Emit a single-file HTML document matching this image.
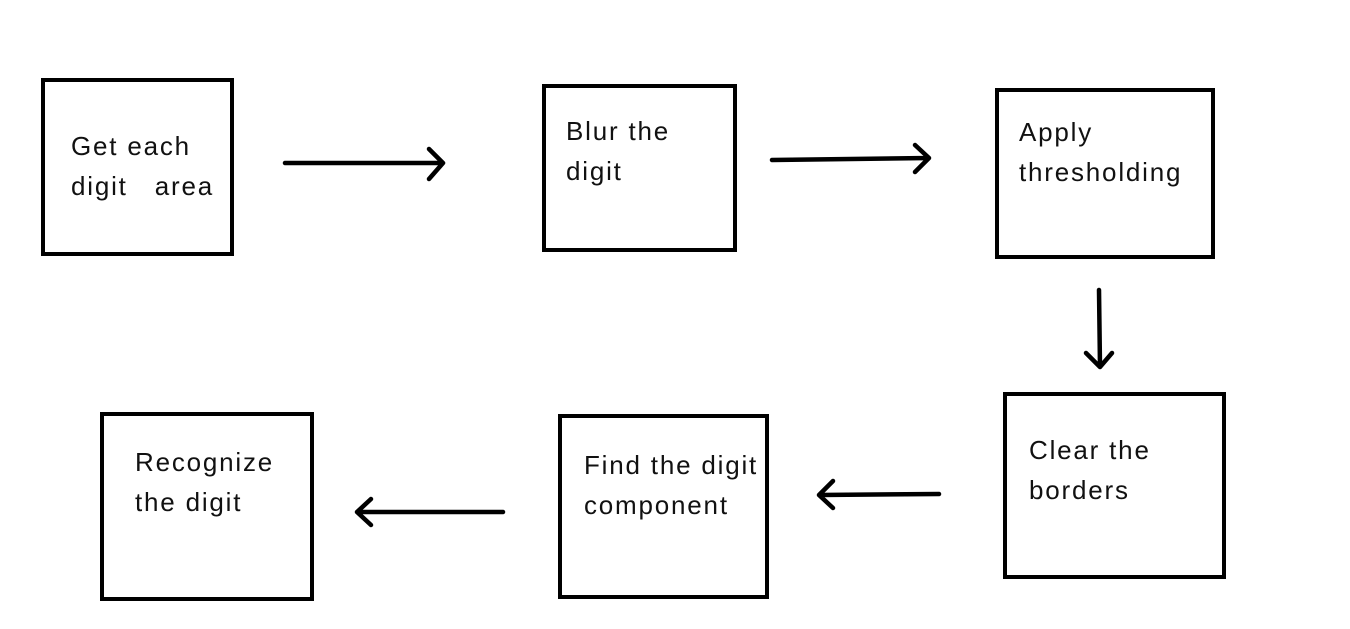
<!DOCTYPE html>
<html><head><meta charset="utf-8"><style>
html,body{margin:0;padding:0;background:#fff;width:1350px;height:629px;overflow:hidden}
.b{position:absolute;border:4px solid #000;box-sizing:border-box}
.t{position:absolute;font-family:"Liberation Sans",sans-serif;font-size:26px;letter-spacing:1.8px;line-height:40px;color:#111;white-space:pre}
svg{position:absolute;left:0;top:0}
</style></head><body>
<div class="b" style="left:41px;top:78px;width:193px;height:178px"></div>
<div class="b" style="left:542px;top:84px;width:195px;height:168px"></div>
<div class="b" style="left:995px;top:88px;width:220px;height:171px"></div>
<div class="b" style="left:1003px;top:392px;width:223px;height:187px"></div>
<div class="b" style="left:558px;top:414px;width:211px;height:185px"></div>
<div class="b" style="left:100px;top:412px;width:214px;height:189px"></div>
<div class="t" style="left:71px;top:126px">Get each
digit   area</div>
<div class="t" style="left:566px;top:111px">Blur the
digit</div>
<div class="t" style="left:1019px;top:112px">Apply
thresholding</div>
<div class="t" style="left:1029px;top:430px">Clear the
borders</div>
<div class="t" style="left:584px;top:445px">Find the digit
component</div>
<div class="t" style="left:135px;top:442px">Recognize
the digit</div>
<svg width="1350" height="629" fill="none" stroke="#000" stroke-width="4.5" stroke-linecap="round" stroke-linejoin="round">
<path d="M285 163 L443 163 M429 149 L443 163 L429 179"/>
<path d="M772 160 L929 158 M915 145 L929 158 L915 172"/>
<path d="M1099 290 L1100 367 M1086 353 L1100 367 L1112 353"/>
<path d="M939 494 L819 495 M833 481 L819 495 L833 508"/>
<path d="M503 512 L357 512 M371 499 L357 512 L371 525"/>
</svg>
</body></html>
